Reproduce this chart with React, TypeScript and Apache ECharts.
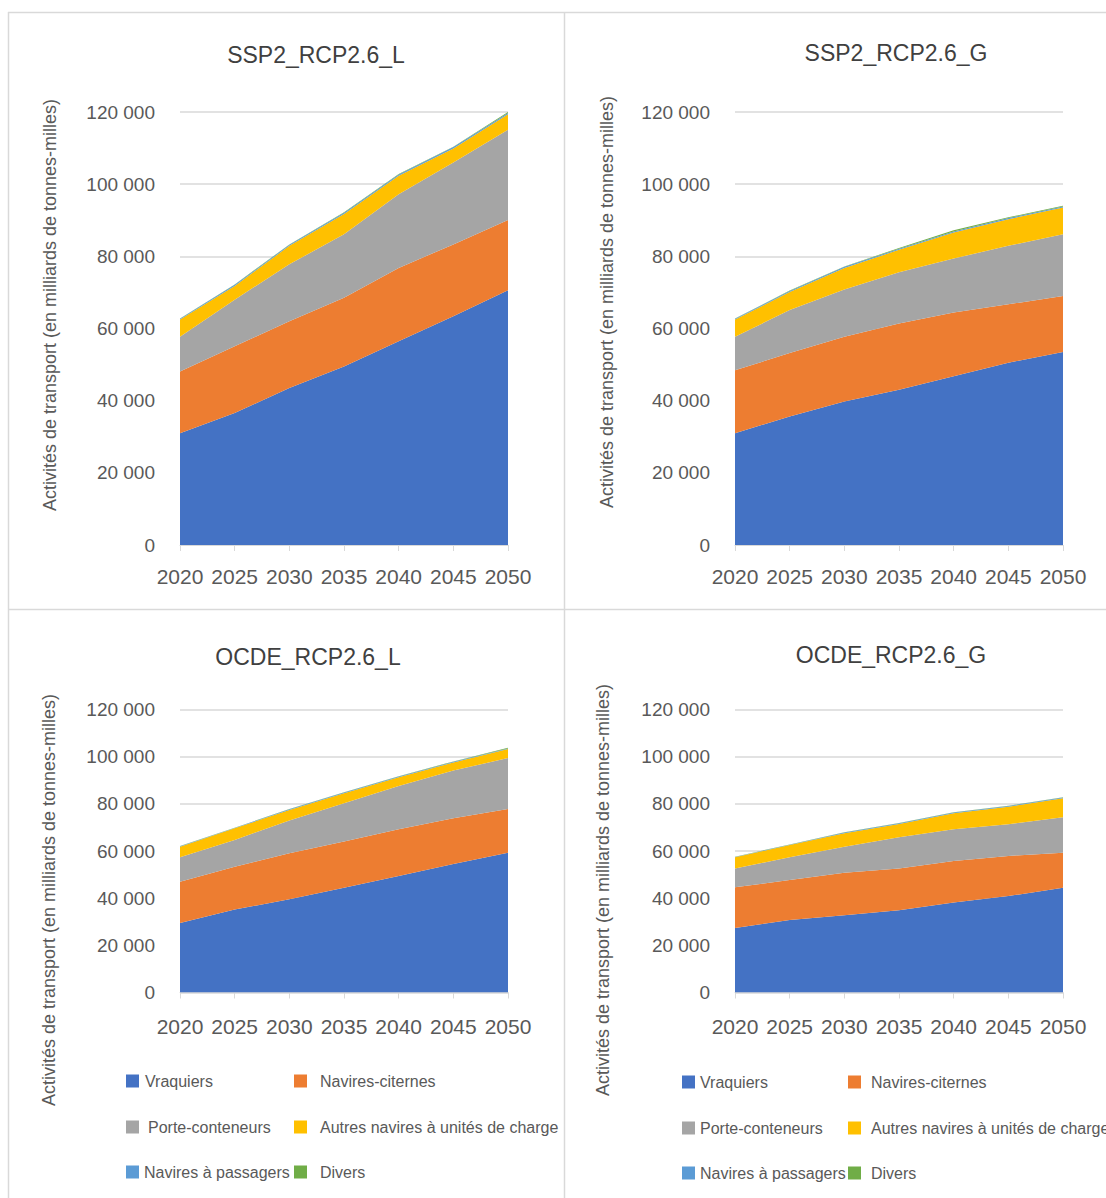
import React, { useEffect, useRef } from "react";
import * as echarts from "echarts";

const years = ["2020", "2025", "2030", "2035", "2040", "2045", "2050"];
const seriesNames = [
  "Vraquiers",
  "Navires-citernes",
  "Porte-conteneurs",
  "Autres navires à unités de charge",
  "Navires à passagers",
  "Divers",
];
const seriesColors = ["#4472C4", "#ED7D31", "#A5A5A5", "#FFC000", "#5B9BD5", "#70AD47"];
const panelTitles = ["SSP2_RCP2.6_L", "SSP2_RCP2.6_G", "OCDE_RCP2.6_L", "OCDE_RCP2.6_G"];
const yTicks = [0, 20000, 40000, 60000, 80000, 100000, 120000];
const yAxisTitle = "Activités de transport (en milliards de tonnes-milles)";

// SSP2_RCP2.6_L
const sspL_vraquiers = [31000, 36600, 43500, 49500, 56500, 63400, 70600];
const sspL_citernes = [17100, 18500, 18500, 19000, 20300, 19900, 19500];
const sspL_conteneurs = [9600, 12900, 15800, 17600, 20400, 22700, 25000];
const sspL_autres = [4800, 3800, 5100, 5600, 5100, 3900, 4300];
const sspL_passagers = [200, 300, 300, 400, 400, 400, 300];
const sspL_divers = [100, 100, 100, 100, 100, 100, 300];

// SSP2_RCP2.6_G
const sspG_vraquiers = [31000, 35600, 39800, 43000, 46800, 50500, 53500];
const sspG_citernes = [17400, 17600, 17900, 18400, 17600, 16200, 15500];
const sspG_conteneurs = [9300, 11900, 13100, 14200, 15000, 16200, 17100];
const sspG_autres = [4800, 5000, 6000, 6200, 7200, 7400, 7400];
const sspG_passagers = [200, 300, 300, 300, 300, 300, 300];
const sspG_divers = [100, 100, 100, 200, 300, 200, 200];

// OCDE_RCP2.6_L
const ocdeL_vraquiers = [29500, 35200, 39500, 44400, 49400, 54500, 59300];
const ocdeL_citernes = [17500, 18100, 19500, 19600, 19800, 19400, 18500];
const ocdeL_conteneurs = [10300, 11400, 13900, 16200, 18400, 20200, 21600];
const ocdeL_autres = [4500, 4900, 4500, 4300, 3700, 3400, 3800];
const ocdeL_passagers = [200, 200, 300, 300, 300, 300, 300];
const ocdeL_divers = [100, 100, 100, 100, 100, 200, 300];

// OCDE_RCP2.6_G
const ocdeG_vraquiers = [27400, 30700, 32800, 34900, 38200, 40900, 44400];
const ocdeG_citernes = [17200, 17000, 18000, 17700, 17600, 17000, 14900];
const ocdeG_conteneurs = [8000, 9600, 11000, 13200, 13400, 13400, 15000];
const ocdeG_autres = [4700, 5200, 5700, 5700, 6800, 7500, 8100];
const ocdeG_passagers = [200, 200, 300, 300, 300, 300, 300];
const ocdeG_divers = [100, 100, 100, 100, 100, 100, 100];

const panelData = [
  [sspL_vraquiers, sspL_citernes, sspL_conteneurs, sspL_autres, sspL_passagers, sspL_divers],
  [sspG_vraquiers, sspG_citernes, sspG_conteneurs, sspG_autres, sspG_passagers, sspG_divers],
  [ocdeL_vraquiers, ocdeL_citernes, ocdeL_conteneurs, ocdeL_autres, ocdeL_passagers, ocdeL_divers],
  [ocdeG_vraquiers, ocdeG_citernes, ocdeG_conteneurs, ocdeG_autres, ocdeG_passagers, ocdeG_divers],
];

const FONT = "'Liberation Sans', Arial, sans-serif";
const TEXT = "#595959";
const GRIDC = "#d9d9d9";

const grids = [
  { left: 180, top: 112, width: 328, height: 433 },
  { left: 735, top: 112, width: 328, height: 433 },
  { left: 180, top: 709.5, width: 328, height: 283 },
  { left: 735, top: 709.5, width: 328, height: 283 },
];
const titlePos = [
  [316, 55],
  [896, 53],
  [308, 657],
  [891, 655],
];
const yTitlePos = [
  [50, 305],
  [607, 302],
  [49, 900],
  [603, 890],
];
const xLabelMargin = [21, 21, 23, 23];

// legend item layout: [iconLeft, iconTop, textShift]
const legendLayout = [
  [
    [126, 1073, 1],
    [294, 1073, 8],
    [126, 1119, 4],
    [294, 1119, 8],
    [126, 1164, 0],
    [294, 1164, 8],
  ],
  [
    [682, 1074, 0],
    [848, 1074, 5],
    [682, 1120, 0],
    [848, 1120, 5],
    [682, 1165, 0],
    [848, 1165, 5],
  ],
];

function fmt(v: number) {
  return String(v).replace(/\B(?=(\d{3})+(?!\d))/g, " ");
}

export default function App() {
  const ref = useRef<HTMLDivElement>(null);
  useEffect(() => {
    if (!ref.current) return;
    const chart = echarts.init(ref.current, undefined, { renderer: "svg" });

    const xAxis = grids.map((_, i) => ({
      type: "category",
      gridIndex: i,
      data: years,
      boundaryGap: false,
      axisLine: { lineStyle: { color: GRIDC, width: 1 } },
      axisTick: { show: true, length: 6, interval: 0, lineStyle: { color: GRIDC } },
      axisLabel: {
        color: TEXT,
        fontSize: 21,
        fontFamily: FONT,
        margin: xLabelMargin[i],
        interval: 0,
        hideOverlap: false,
      },
      splitLine: { show: false },
    }));
    const yAxis = grids.map((_, i) => ({
      type: "value",
      gridIndex: i,
      min: yTicks[0],
      max: yTicks[yTicks.length - 1],
      interval: yTicks[1] - yTicks[0],
      axisLine: { show: false },
      axisTick: { show: false },
      axisLabel: {
        color: TEXT,
        fontSize: 19,
        fontFamily: FONT,
        margin: 25,
        formatter: (v: number) => fmt(v),
      },
      splitLine: { lineStyle: { color: GRIDC, width: 1.5 } },
    }));

    const series: any[] = [];
    panelData.forEach((arrs, p) => {
      arrs.forEach((vals, s) => {
        series.push({
          type: "line",
          name: seriesNames[s],
          xAxisIndex: p,
          yAxisIndex: p,
          stack: "panel" + p,
          data: vals,
          symbol: "none",
          showSymbol: false,
          lineStyle: { width: 0 },
          areaStyle: { color: seriesColors[s], opacity: 1 },
          itemStyle: { color: seriesColors[s] },
          emphasis: { disabled: true },
        });
      });
    });

    const legend: any[] = [];
    legendLayout.forEach((items) => {
      items.forEach(([x, y, shift], k) => {
        legend.push({
          left: x,
          top: y,
          padding: 0,
          itemWidth: 13,
          itemHeight: 13,
          selectedMode: false,
          icon: "rect",
          data: [{ name: seriesNames[k], icon: "rect" }],
          textStyle: {
            color: TEXT,
            fontSize: 16,
            fontFamily: FONT,
            padding: [0, 0, 0, shift > 0 ? shift : 0],
          },
        });
      });
    });

    const graphic: any[] = [
      { type: "line", shape: { x1: 8, y1: 12.5, x2: 1106, y2: 12.5 }, style: { stroke: GRIDC, lineWidth: 1.5 } },
      { type: "line", shape: { x1: 8.5, y1: 12, x2: 8.5, y2: 1198 }, style: { stroke: GRIDC, lineWidth: 1.5 } },
      { type: "line", shape: { x1: 564.5, y1: 12, x2: 564.5, y2: 1198 }, style: { stroke: GRIDC, lineWidth: 1.5 } },
      { type: "line", shape: { x1: 8, y1: 609.5, x2: 1106, y2: 609.5 }, style: { stroke: GRIDC, lineWidth: 1.5 } },
    ];
    titlePos.forEach(([x, y], i) => {
      graphic.push({
        type: "text",
        x,
        y,
        style: {
          text: panelTitles[i],
          fill: "#404040",
          font: `23px ${FONT}`,
          textAlign: "center",
          textVerticalAlign: "middle",
        },
      });
    });
    yTitlePos.forEach(([x, y]) => {
      graphic.push({
        type: "text",
        x,
        y,
        rotation: Math.PI / 2,
        style: {
          text: yAxisTitle,
          fill: TEXT,
          font: `18px ${FONT}`,
          textAlign: "center",
          textVerticalAlign: "middle",
        },
      });
    });

    chart.setOption({
      animation: false,
      backgroundColor: "#ffffff",
      grid: grids.map((g) => ({ ...g, containLabel: false })),
      xAxis,
      yAxis,
      legend,
      series,
      graphic,
    });
    return () => chart.dispose();
  }, []);
  return (
    <div
      ref={ref}
      style={{ position: "absolute", left: 0, top: 0, width: 1106, height: 1198 }}
    />
  );
}
